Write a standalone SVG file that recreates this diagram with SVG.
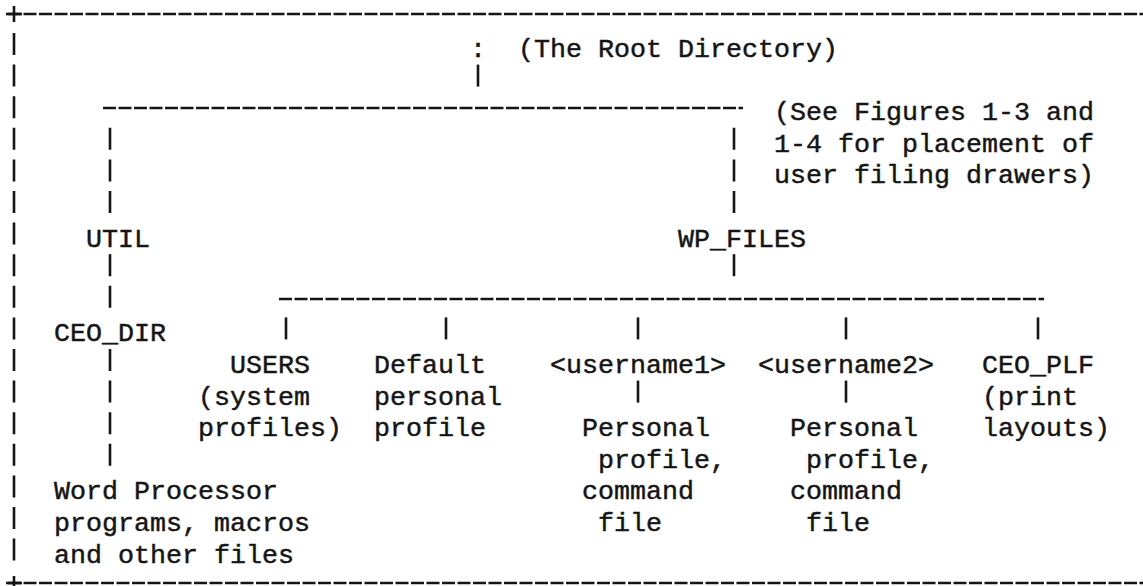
<svg xmlns="http://www.w3.org/2000/svg" width="1143" height="586" viewBox="0 0 1143 586">
<style>
  text { font-family: "Liberation Mono", "DejaVu Sans Mono", monospace; font-size: 26.667px; fill: #151515; stroke: #151515; stroke-width: 0.45px; }
  .v { stroke: #151515; stroke-width: 2.6; stroke-dasharray: 22 9.6; fill: none; }
  .h { stroke: #151515; stroke-width: 2.4; stroke-dasharray: 13 2.5; fill: none; }
  .solid { stroke: #151515; stroke-width: 2.6; fill: none; }
</style>
<rect width="1143" height="586" fill="#ffffff"/>

<g id="frame">
  <line class="h" x1="8" y1="14" x2="1143" y2="14"/>
  <line class="h" x1="8" y1="583" x2="1143" y2="583"/>
  <line class="solid" x1="14" y1="6" x2="14" y2="22"/>
  <line class="solid" x1="6" y1="14" x2="22" y2="14"/>
  <line class="solid" x1="14" y1="576" x2="14" y2="586"/>
  <line class="solid" x1="6" y1="583" x2="22" y2="583"/>
  <line class="v" x1="14" y1="33" x2="14" y2="561"/>
</g>

<g id="connectors">
  <line class="v" x1="478" y1="64.6" x2="478" y2="86.6"/>
  <line class="h" x1="103" y1="108" x2="743" y2="108"/>
  <line class="v" x1="110" y1="127.8" x2="110" y2="213"/>
  <line class="v" x1="734" y1="127.8" x2="734" y2="213"/>
  <line class="v" x1="110" y1="254.2" x2="110" y2="307.8"/>
  <line class="v" x1="734" y1="254.2" x2="734" y2="276.2"/>
  <line class="h" x1="279" y1="299" x2="1044" y2="299"/>
  <line class="v" x1="286" y1="317.4" x2="286" y2="339.4"/>
  <line class="v" x1="446" y1="317.4" x2="446" y2="339.4"/>
  <line class="v" x1="638" y1="317.4" x2="638" y2="339.4"/>
  <line class="v" x1="846" y1="317.4" x2="846" y2="339.4"/>
  <line class="v" x1="1038" y1="317.4" x2="1038" y2="339.4"/>
  <line class="v" x1="110" y1="349" x2="110" y2="465.8"/>
  <line class="v" x1="638" y1="380.6" x2="638" y2="402.6"/>
  <line class="v" x1="846" y1="380.6" x2="846" y2="402.6"/>
</g>

<g id="root">
  <text x="470" y="57">:</text>
  <text x="518" y="57">(The Root Directory)</text>
</g>

<g id="note">
  <text x="774" y="120.2">(See Figures 1-3 and</text>
  <text x="774" y="151.8">1-4 for placement of</text>
  <text x="774" y="183.4">user filing drawers)</text>
</g>

<g id="util"><text x="86" y="246.6">UTIL</text></g>
<g id="wp_files"><text x="678" y="246.6">WP_FILES</text></g>

<g id="ceo_dir"><text x="54" y="341.4">CEO_DIR</text></g>

<g id="users">
  <text x="230" y="373">USERS</text>
  <text x="198" y="404.6">(system</text>
  <text x="198" y="436.2">profiles)</text>
</g>

<g id="default">
  <text x="374" y="373">Default</text>
  <text x="374" y="404.6">personal</text>
  <text x="374" y="436.2">profile</text>
</g>

<g id="username1">
  <text x="550" y="373">&lt;username1&gt;</text>
</g>
<g id="username1_files">
  <text x="582" y="436.2">Personal</text>
  <text x="598" y="467.8">profile,</text>
  <text x="582" y="499.4">command</text>
  <text x="598" y="531">file</text>
</g>

<g id="username2">
  <text x="758" y="373">&lt;username2&gt;</text>
</g>
<g id="username2_files">
  <text x="790" y="436.2">Personal</text>
  <text x="806" y="467.8">profile,</text>
  <text x="790" y="499.4">command</text>
  <text x="806" y="531">file</text>
</g>

<g id="ceo_plf">
  <text x="982" y="373">CEO_PLF</text>
  <text x="982" y="404.6">(print</text>
  <text x="982" y="436.2">layouts)</text>
</g>

<g id="wp_programs">
  <text x="54" y="499.4">Word Processor</text>
  <text x="54" y="531">programs, macros</text>
  <text x="54" y="562.6">and other files</text>
</g>
</svg>
